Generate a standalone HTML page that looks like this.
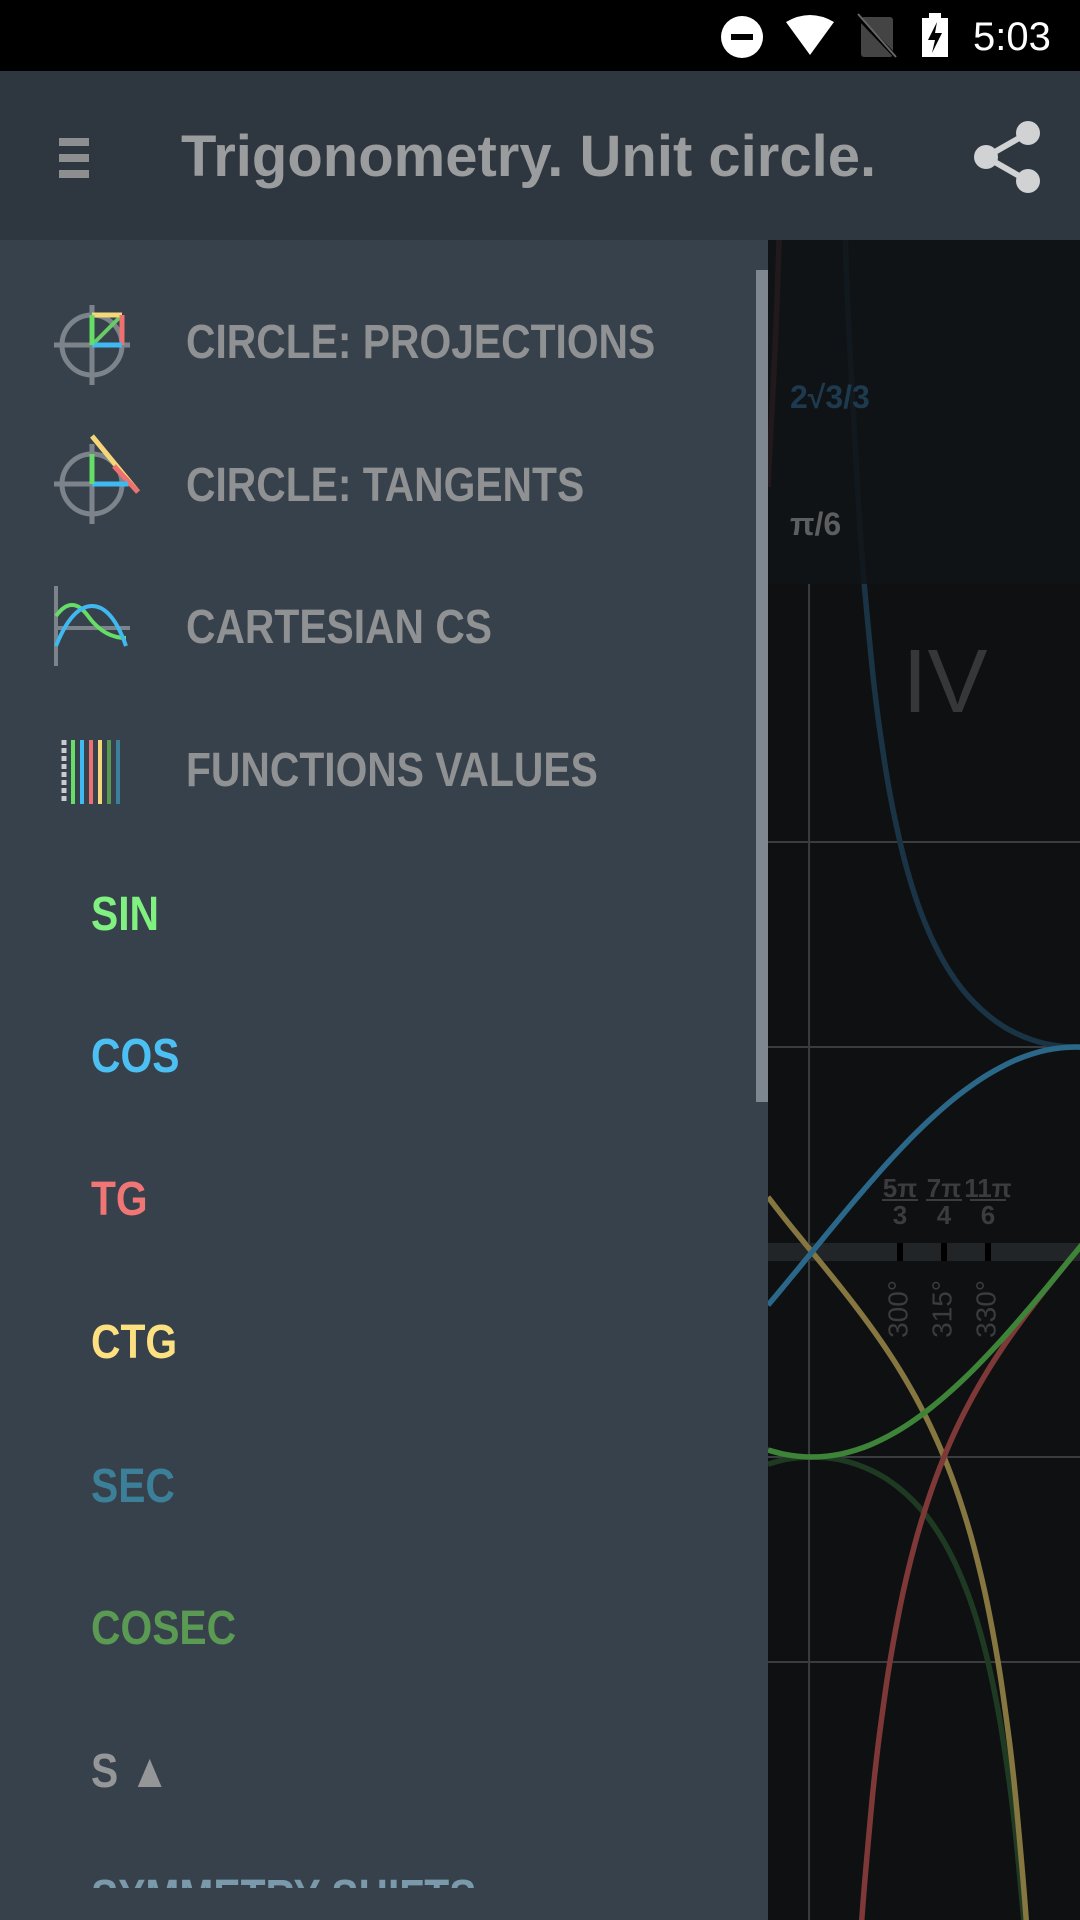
<!DOCTYPE html>
<html><head><meta charset="utf-8">
<style>
*{margin:0;padding:0;box-sizing:border-box}
html,body{width:1080px;height:1920px;overflow:hidden}
body{background:#0e1012;font-family:"Liberation Sans",sans-serif;position:relative}
#status{position:absolute;left:0;top:0;width:1080px;height:71px;background:#000}
#toolbar{position:absolute;left:0;top:71px;width:1080px;height:169px;background:#2e363f}
.sx{display:inline-block;transform:scaleX(0.85);transform-origin:left center;white-space:nowrap}
#title{position:absolute;left:181px;top:124px;font-size:58px;font-weight:bold;color:#9a9c9e;line-height:66px;white-space:nowrap}
#chart{position:absolute;left:0;top:0}
#drawer{position:absolute;left:0;top:240px;width:768px;height:1680px;background:#37414c;overflow:hidden}
.item{position:absolute;left:186px;font-size:48px;font-weight:bold;color:#8f9193;line-height:56px}
.sub{position:absolute;left:91px;font-size:48px;font-weight:bold;line-height:56px}
.icon{position:absolute;left:52px}
#scroll{position:absolute;left:756px;top:30px;width:12px;height:832px;background:#7e868f}
</style></head><body>
<svg id="chart" width="1080" height="1920"></svg>

<div id="status">
<svg width="1080" height="71">
<circle cx="742" cy="37" r="21" fill="#fff"/><rect x="731" y="34" width="22" height="6" fill="#000"/>
<path d="M786 22 Q810 8 834 22 L810 55 Z" fill="#fff"/>
<rect x="861" y="17" width="32" height="40" rx="3" fill="#444"/><line x1="857" y1="16" x2="897" y2="58" stroke="#000" stroke-width="4"/><line x1="858" y1="14" x2="896" y2="57" stroke="#666" stroke-width="2"/>
<rect x="922" y="18" width="26" height="39" fill="#fff"/><rect x="929" y="13" width="12" height="6" fill="#fff"/><path d="M937 22 L928 40 L935 40 L932 53 L942 33 L935 33 Z" fill="#000"/>
<text x="973" y="50" font-size="40" fill="#fff" font-family="Liberation Sans">5:03</text>
</svg></div>

<div id="toolbar">
<svg style="position:absolute;left:59px;top:67px" width="32" height="42"><rect x="0" y="0" width="30" height="8" fill="#8c8e90"/><rect x="0" y="16" width="30" height="8" fill="#8c8e90"/><rect x="0" y="32" width="30" height="8" fill="#8c8e90"/></svg>
<svg style="position:absolute;left:972px;top:48px" width="74" height="76"><line x1="14" y1="38" x2="56" y2="14" stroke="#d0d2d4" stroke-width="6"/><line x1="14" y1="38" x2="56" y2="62" stroke="#d0d2d4" stroke-width="6"/><circle cx="56" cy="14" r="12" fill="#d0d2d4"/><circle cx="14" cy="38" r="12" fill="#d0d2d4"/><circle cx="56" cy="62" r="12" fill="#d0d2d4"/></svg>
</div>
<div id="title">Trigonometry. Unit circle.</div>

<div id="drawer">
<svg class="icon" style="top:63px" width="84" height="84"><circle cx="40" cy="42" r="30" fill="none" stroke="#7c838a" stroke-width="5"/><line x1="2" y1="42" x2="78" y2="42" stroke="#7c838a" stroke-width="5"/><line x1="40" y1="2" x2="40" y2="82" stroke="#7c838a" stroke-width="5"/><line x1="40" y1="42" x2="70" y2="12" stroke="#66cc66" stroke-width="4"/><line x1="40" y1="12" x2="70" y2="12" stroke="#f5d77a" stroke-width="5"/><line x1="70" y1="12" x2="70" y2="42" stroke="#ef7070" stroke-width="5"/><line x1="40" y1="42" x2="70" y2="42" stroke="#40b8f0" stroke-width="5"/><line x1="40" y1="12" x2="40" y2="42" stroke="#66dd66" stroke-width="5"/></svg>
<div class="item" style="top:75px"><span class="sx">CIRCLE: PROJECTIONS</span></div>

<svg class="icon" style="top:192px" width="90" height="92"><circle cx="40" cy="52" r="30" fill="none" stroke="#7c838a" stroke-width="5"/><line x1="2" y1="52" x2="78" y2="52" stroke="#7c838a" stroke-width="5"/><line x1="40" y1="12" x2="40" y2="92" stroke="#7c838a" stroke-width="5"/><line x1="40" y1="4" x2="86" y2="60" stroke="#f5d77a" stroke-width="5"/><line x1="62" y1="34" x2="86" y2="60" stroke="#ef7070" stroke-width="5"/><line x1="40" y1="52" x2="76" y2="52" stroke="#40b8f0" stroke-width="5"/><line x1="40" y1="22" x2="40" y2="52" stroke="#66dd66" stroke-width="5"/></svg>
<div class="item" style="top:218px"><span class="sx">CIRCLE: TANGENTS</span></div>

<svg class="icon" style="top:346px" width="84" height="84"><line x1="4" y1="0" x2="4" y2="80" stroke="#7c838a" stroke-width="4"/><line x1="4" y1="42" x2="78" y2="42" stroke="#7c838a" stroke-width="4"/><path d="M4 30 Q20 8 36 30 T74 52" fill="none" stroke="#66dd66" stroke-width="4"/><path d="M4 60 Q20 20 40 20 T74 60" fill="none" stroke="#40b8f0" stroke-width="4"/></svg>
<div class="item" style="top:360px"><span class="sx">CARTESIAN CS</span></div>

<svg class="icon" style="top:500px" width="84" height="70"><line x1="12" y1="0" x2="12" y2="64" stroke="#c8ccd0" stroke-width="5" stroke-dasharray="5 3"/><line x1="21" y1="0" x2="21" y2="64" stroke="#66dd66" stroke-width="4"/><line x1="30" y1="0" x2="30" y2="64" stroke="#40b8f0" stroke-width="4"/><line x1="39" y1="0" x2="39" y2="64" stroke="#ef7070" stroke-width="4"/><line x1="48" y1="0" x2="48" y2="64" stroke="#f5d77a" stroke-width="4"/><line x1="57" y1="0" x2="57" y2="64" stroke="#5a9a50" stroke-width="4"/><line x1="66" y1="0" x2="66" y2="64" stroke="#3d7f99" stroke-width="4"/></svg>
<div class="item" style="top:503px"><span class="sx">FUNCTIONS VALUES</span></div>

<div class="sub" style="top:647px;color:#80f080"><span class="sx">SIN</span></div>
<div class="sub" style="top:789px;color:#4cc0f2"><span class="sx">COS</span></div>
<div class="sub" style="top:932px;color:#f07575"><span class="sx">TG</span></div>
<div class="sub" style="top:1075px;color:#fde080"><span class="sx">CTG</span></div>
<div class="sub" style="top:1219px;color:#3b7f99"><span class="sx">SEC</span></div>
<div class="sub" style="top:1361px;color:#5a9a52"><span class="sx">COSEC</span></div>
<div class="sub" style="top:1504px;color:#949698"><span class="sx">S ▲</span></div>
<div style="position:absolute;left:0;top:1620px;width:768px;height:28px;overflow:hidden"><div class="sub" style="top:10px;color:#7a9aab"><span class="sx">SYMMETRY SHIFTS</span></div></div>
<div id="scroll"></div>
</div>

<script>
const angles=[255,260,265,270,275,280,285,290,295,300,305,310,315,320,325,330,335,340,345,350,355,360,365];
const sinVals=[-0.966,-0.985,-0.996,-1,-0.996,-0.985,-0.966,-0.940,-0.906,-0.866,-0.819,-0.766,-0.707,-0.643,-0.574,-0.5,-0.423,-0.342,-0.259,-0.174,-0.087,0,0.087];
const cosVals=[-0.259,-0.174,-0.087,0,0.087,0.174,0.259,0.342,0.423,0.5,0.574,0.643,0.707,0.766,0.819,0.866,0.906,0.940,0.966,0.985,0.996,1,0.996];
const tanVals=[3.732,5.671,11.43,null,-11.43,-5.671,-3.732,-2.747,-2.145,-1.732,-1.428,-1.192,-1,-0.839,-0.700,-0.577,-0.466,-0.364,-0.268,-0.176,-0.087,0,0.087];
const ctgVals=[0.268,0.176,0.087,0,-0.087,-0.176,-0.268,-0.364,-0.466,-0.577,-0.700,-0.839,-1,-1.192,-1.428,-1.732,-2.145,-2.747,-3.732,-5.671,-11.43,null,11.43];
const secVals=[-3.864,-5.759,-11.47,null,11.47,5.759,3.864,2.924,2.366,2,1.743,1.556,1.414,1.305,1.221,1.155,1.103,1.064,1.035,1.015,1.004,1,1.004];
const cosecVals=[-1.035,-1.015,-1.004,-1,-1.004,-1.015,-1.035,-1.064,-1.103,-1.155,-1.221,-1.305,-1.414,-1.556,-1.743,-2,-2.366,-2.924,-3.864,-5.759,-11.47,null,11.47];
const tickAngles=[300,315,330];
const tickRadians=[["5π","3"],["7π","4"],["11π","6"]];
const gridValues=[2,1,-1,-2];

const NS="http://www.w3.org/2000/svg";
const svg=document.getElementById('chart');
const xs=a=>812+(a-270)*2.933;
const ys=v=>1252-v*205;
function mk(tag,attrs,parent){const e=document.createElementNS(NS,tag);for(const k in attrs)e.setAttribute(k,attrs[k]);(parent||svg).appendChild(e);return e;}
const defs=mk('defs',{});
const cp=mk('clipPath',{id:'clip'},defs);mk('rect',{x:768,y:240,width:312,height:1680},cp);
const g=mk('g',{'clip-path':'url(#clip)'});


mk('rect',{x:0,y:240,width:1080,height:1680,fill:'#0e1012'},g);
gridValues.forEach(v=>{const l=mk('line',{x1:768,x2:1080,y1:ys(v),y2:ys(v),stroke:'#3a3d40','stroke-width':2},g);

});
const vax=mk('line',{x1:xs(269),x2:xs(269),y1:584,y2:1920,stroke:'#3a3d40','stroke-width':2},g);


const band=mk('rect',{x:768,y:1243,width:312,height:18,fill:'#222527'},g);


tickAngles.forEach((a,i)=>{
 const t=mk('rect',{x:xs(a)-3,y:1243,width:6,height:18,fill:'#000'},g);
 
 
 const lb=mk('text',{x:xs(a),y:1280,transform:`rotate(-90 ${xs(a)} 1280)`,'text-anchor':'end','dominant-baseline':'middle','font-size':28,fill:'#3a3c3e','font-family':'Liberation Sans'},g);
 lb.textContent=a+'°';
 
 
 const n=mk('text',{x:xs(a),y:1197,'text-anchor':'middle','font-size':26,'font-weight':'bold',fill:'#3a3c3e','font-family':'Liberation Sans'},g);
 n.textContent=tickRadians[i][0];
 
 
 mk('line',{x1:xs(a)-18,x2:xs(a)+18,y1:1200,y2:1200,stroke:'#3a3c3e','stroke-width':2},g);
 const d=mk('text',{x:xs(a),y:1224,'text-anchor':'middle','font-size':26,'font-weight':'bold',fill:'#3a3c3e','font-family':'Liberation Sans'},g);
 d.textContent=tickRadians[i][1];
 
 
});
const q=mk('text',{x:945,y:712,'text-anchor':'middle','font-size':90,fill:'#353739','font-family':'Liberation Sans'},g);
q.textContent='IV';


function pathFor(vals){
 let segs=[],cur=[];
 angles.forEach((a,i)=>{const v=vals[i];if(v===null){if(cur.length)segs.push(cur);cur=[];}else cur.push([xs(a),ys(v)]);});
 if(cur.length)segs.push(cur);
 let d='';
 segs.forEach(p=>{
  if(p.length===1)return;
  d+=`M${p[0][0]},${p[0][1]}`;
  for(let i=0;i<p.length-1;i++){
   const p0=p[Math.max(0,i-1)],p1=p[i],p2=p[i+1],p3=p[Math.min(p.length-1,i+2)];
   const c1=[p1[0]+(p2[0]-p0[0])/6,p1[1]+(p2[1]-p0[1])/6];
   const c2=[p2[0]-(p3[0]-p1[0])/6,p2[1]-(p3[1]-p1[1])/6];
   d+=`C${c1[0]},${c1[1]} ${c2[0]},${c2[1]} ${p2[0]},${p2[1]}`;
  }
 });
 return d;
}
const series=[[secVals,'#1a3345','sec-curve'],[cosecVals,'#1f3a22','cosec-curve'],[ctgVals,'#867640','ctg-curve'],[tanVals,'#7f3838','tg-curve'],[sinVals,'#3d8438','sin-curve'],[cosVals,'#2a6788','cos-curve']];
series.forEach(s=>{
 const p=mk('path',{d:pathFor(s[0]),fill:'none',stroke:s[1],'stroke-width':5.5},g);
 
 
});
const panel=mk('rect',{x:768,y:240,width:312,height:344,fill:'#111417','fill-opacity':0.85},g);


const v1=mk('text',{x:790,y:408,'font-size':32,'font-weight':'bold',fill:'#1d3a4e','font-family':'Liberation Sans'},g);
v1.textContent='2√3/3';


const v2=mk('text',{x:790,y:535,'font-size':32,'font-weight':'bold',fill:'#5c5e60','font-family':'Liberation Sans'},g);
v2.textContent='π/6';


</script>
</body></html>
